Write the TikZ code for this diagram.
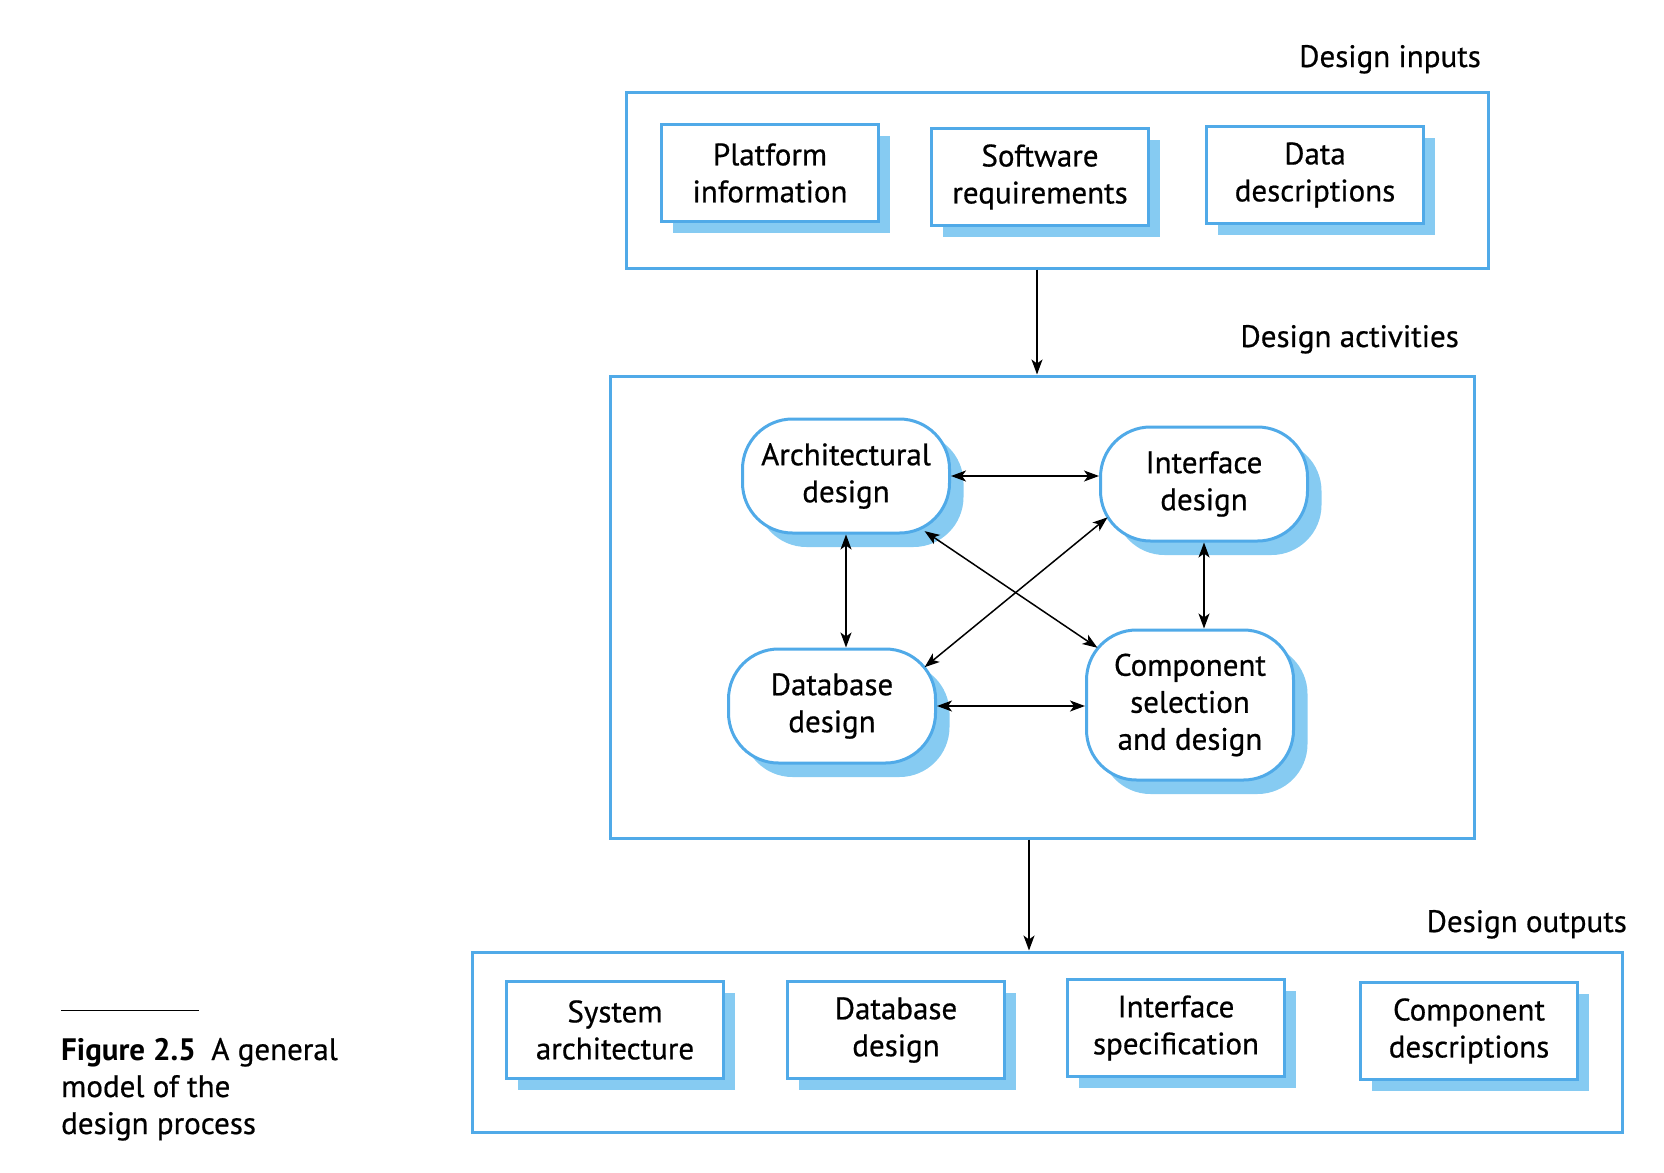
\documentclass[tikz,border=0pt]{standalone}
\usepackage{fontspec}
\setmainfont{PT Sans}[UprightFeatures={FakeBold=0.6}]
\usetikzlibrary{shadows, arrows.meta}
\definecolor{boxblue}{RGB}{80,170,232}
\definecolor{shadeblue}{RGB}{134,203,242}

\begin{document}
\begin{tikzpicture}[x=1pt, y=-1pt, >={Stealth[length=15pt, width=11pt, inset=4pt]},
    every node/.style={font=\fontsize{31}{37}\selectfont},
    group/.style={draw=boxblue, line width=3pt, minimum width=#1},
    title/.style={inner sep=0pt, anchor=base east},
    boxbase/.style={draw=boxblue, line width=3pt, fill=white, align=center},
    item/.style={boxbase, minimum width=217pt, minimum height=97pt,
        drop shadow={shadow xshift=11pt, shadow yshift=-11pt, fill=shadeblue, opacity=1}},
    activity/.style={boxbase, rounded corners=50pt, minimum width=207pt, minimum height=114pt,
        drop shadow={shadow xshift=14pt, shadow yshift=-14pt, fill=shadeblue, opacity=1}},
    link/.style={<->, line width=1.5pt}]
    \useasboundingbox (0,0) rectangle (1664,1172);

    % design inputs
    \node[title] at (1481,67) {Design inputs};
    \node[group=862pt, minimum height=176pt] (inputs) at (1057,180) {};
    \node[item] (platform) at (770,173) {Platform\\information};
    \node[item] (software) at (1040,177) {Software\\requirements};
    \node[item] (data) at (1315,175) {Data\\descriptions};

    % design activities
    \node[title] at (1459,347) {Design activities};
    \node[group=864pt, minimum height=462pt] (activities) at (1042,607) {};
    \node[activity] (arch) at (846,476) {Architectural\\design};
    \node[activity] (iface) at (1204,484) {Interface\\design};
    \node[activity] (db) at (832,706) {Database\\design};
    \node[activity, minimum height=150pt] (comp) at (1190,705) {Component\\selection\\and design};

    \draw[link] (arch.east) -- (arch.east -| iface.west);
    \draw[link] (db.east) -- (db.east -| comp.west);
    \draw[link] (arch.south) -- (arch.south |- db.north);
    \draw[link] (iface.south) -- (iface.south |- comp.north);
    \draw[link, shorten <=-6pt, shorten >=-15pt] (arch.-35.5) -- (comp.148.7);
    \draw[link, shorten <=-11pt, shorten >=-16pt] (iface.201) -- (db.25.8);

    % design outputs
    \node[title] at (1627,932) {Design outputs};
    \node[group=1150pt, minimum height=180pt] (outputs) at (1047,1042) {};
    \node[item] (sysarch) at (615,1030) {System\\architecture};
    \node[item] (dbdesign) at (896,1030) {Database\\design};
    \node[item] (ifspec) at (1176,1028) {Interface\\specification};
    \node[item] (compdesc) at (1469,1031) {Component\\descriptions};

    \draw[->, line width=1.5pt] ([xshift=-20pt]inputs.south) -- ([xshift=-20pt]inputs.south |- activities.north);
    \draw[->, line width=1.5pt] ([xshift=-13pt]activities.south) -- ([xshift=-13pt]activities.south |- outputs.north);

    % caption
    \draw[line width=1pt] (61,1010) coordinate (rulea) -- (199,1010) coordinate (ruleb);
    \node[inner sep=0pt, anchor=base west, align=left] (caption) at (61,1134)
        {\textbf{Figure 2.5}\enspace A general\\model of the\\design process};
\end{tikzpicture}
\end{document}
